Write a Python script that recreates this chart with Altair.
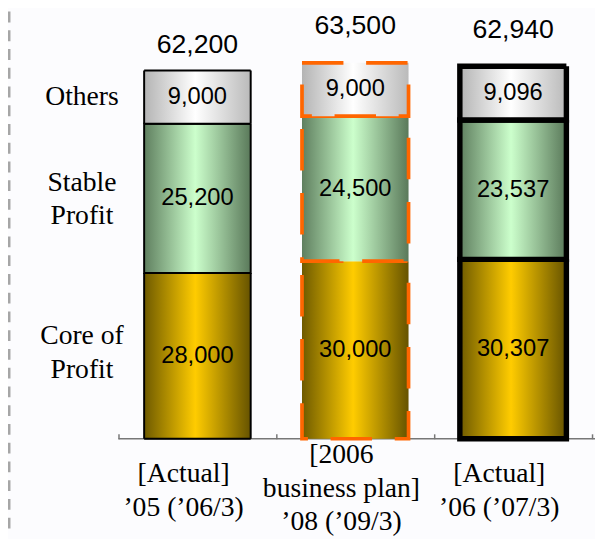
import altair as alt
import pandas as pd

# ---- data ----
categories = ["[Actual]|’05 (’06/3)", "[2006|business plan]|’08 (’09/3)", "[Actual]|’06 (’07/3)"]
segments = ["Core of Profit", "Stable Profit", "Others"]
segment_titles = ["Core of|Profit", "Stable|Profit", "Others"]
core = [28000, 30000, 30307]
stable = [25200, 24500, 23537]
others = [9000, 9000, 9096]
totals = [62200, 63500, 62940]

rows = []
for i, c in enumerate(categories):
    base = 0
    for s, vals in zip(segments, [core, stable, others]):
        v = vals[i]
        rows.append(dict(category=c, segment=s, value=v, y0=base, y1=base + v, mid=base + v / 2))
        base += v
df = pd.DataFrame(rows)
tot_df = pd.DataFrame({"category": categories, "total": totals})
tot_df["lines"] = [len(c.split("|")) for c in categories]
left_df = df[df["category"] == categories[0]].copy()
left_df["title"] = segment_titles

# ---- styles ----
W, H = 480, 432
yscale = alt.Scale(domain=[0, 72000], nice=False, zero=True)
xscale = alt.Scale(domain=categories, paddingInner=0, paddingOuter=0)

x_enc = alt.X(
    "category:N", sort=categories, scale=xscale,
    axis=alt.Axis(
        title=None, labels=False,
        tickBand="extent", tickSize=5, offset=-5, domain=False,
        tickColor="#777777", tickWidth=1.5,
    ),
)


def grad(edge_l, mid, edge_r):
    return alt.Gradient(
        gradient="linear", x1=0, x2=1, y1=0, y2=0,
        stops=[
            alt.GradientStop(color=edge_l, offset=0),
            alt.GradientStop(color=mid, offset=0.48),
            alt.GradientStop(color=edge_r, offset=1),
        ],
    )


fills = {
    "Core of Profit": grad("#6e5a00", "#ffcc00", "#665300"),
    "Stable Profit": grad("#5f7f5f", "#ccffcc", "#5a795a"),
    "Others": grad("#b4b4b4", "#ffffff", "#bababa"),
}

stroke_enc = dict(
    stroke=alt.Stroke("category:N", scale=alt.Scale(domain=categories, range=["#000000", "#ff6600", "#000000"]), legend=None),
    strokeWidth=alt.StrokeWidth("category:N", scale=alt.Scale(domain=categories, range=[2, 5.5, 4]), legend=None),
    strokeDash=alt.StrokeDash("category:N", scale=alt.Scale(domain=categories, range=[[1, 0], [42, 23], [1, 0]]), legend=None),
)

layers = []

# left dashed line
layers.append(
    alt.Chart(pd.DataFrame({"a": [0]})).mark_rule(color="#a6a6a6", strokeWidth=3, strokeDash=[11, 8]).encode(
        x=alt.value(-111), y=alt.value(-1), y2=alt.value(530)
    )
)

# baseline
layers.append(
    alt.Chart(pd.DataFrame({"a": [0]})).mark_rule(color="#777777", strokeWidth=1.5).encode(
        x=alt.value(0), x2=alt.value(483), y=alt.value(H)
    )
)

for s in segments:
    layers.append(
        alt.Chart(df).transform_filter(alt.datum.segment == s).mark_bar(size=108, fill=fills[s]).encode(
            x=x_enc,
            y=alt.Y("y0:Q", scale=yscale, axis=None),
            y2="y1:Q",
            **stroke_enc,
        )
    )

# segment value labels
layers.append(
    alt.Chart(df).mark_text(font="Liberation Sans", color="black", baseline="middle", align="center").encode(
        x=x_enc,
        y=alt.Y("mid:Q", scale=yscale, axis=None),
        text=alt.Text("value:Q", format=","),
        size=alt.Size("segment:N", scale=alt.Scale(domain=segments, range=[24, 24, 21]), legend=None),
    )
)

# totals
total_dy = [-26, -37, -37]
for c, d in zip(categories, total_dy):
    layers.append(
        alt.Chart(tot_df).transform_filter(alt.datum.category == c).mark_text(
            font="Liberation Sans", fontSize=27, color="black", baseline="middle", dy=d
        ).encode(
            x=x_enc,
            y=alt.Y("total:Q", scale=yscale, axis=None),
            text=alt.Text("total:Q", format=","),
        )
    )

# category labels under the axis (first line position depends on line count)
for n, ypix in [(2, H + 36), (3, H + 17)]:
    layers.append(
        alt.Chart(tot_df).transform_filter(alt.datum.lines == n).mark_text(
            font="Liberation Serif", fontSize=28, lineHeight=34, lineBreak="|", color="black",
            baseline="middle", align="center", dx=-14
        ).encode(
            x=x_enc,
            y=alt.value(ypix),
            text="category:N",
        )
    )

# left segment titles
title_dy = {"Core of|Profit": -20, "Stable|Profit": -16, "Others": 0}
for t, d in title_dy.items():
    layers.append(
        alt.Chart(left_df).transform_filter(alt.datum.title == t).mark_text(
            font="Liberation Serif", fontSize=28, lineHeight=34, lineBreak="|", color="black",
            baseline="middle", align="center", dy=d
        ).encode(
            x=alt.value(-37),
            y=alt.Y("mid:Q", scale=yscale, axis=None),
            text="title:N",
        )
    )

chart = alt.layer(*layers).properties(
    width=W, height=H,
    autosize=alt.AutoSizeParams(type="none"),
    padding={"left": 112, "top": 1, "right": 3, "bottom": 98},
    background="#fcfcfe",
).configure_view(stroke=None)

chart.save("out.html", embed_options={"renderer": "svg", "actions": False})
